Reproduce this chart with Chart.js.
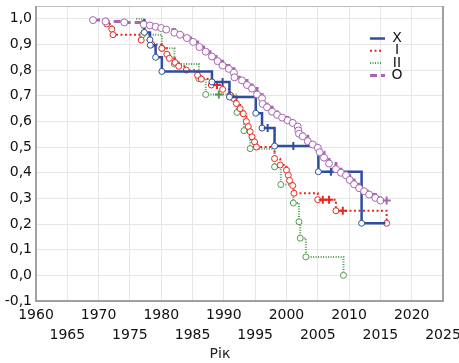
<!DOCTYPE html>
<html>
  <head>
    <style>
      html, body {
        margin: 0;
        padding: 0;
        background: #fff;
      }
    </style>
    <script src="https://cdn.jsdelivr.net/npm/chart.js"></script>
  </head>
  <body>
    <canvas id="kmChart" width="459" height="363"></canvas>
    <script>
      // values ('o' = event circle, '+' = censored, '' = no mark)
      var seriesNames = ['X', 'I', 'II', 'O'];

      var xYears = [1977.3, 1977.3, 1978.2, 1978.25, 1979.1, 1980.1, 1988.1, 1989.8, 1990.9, 1995.1, 1996.1, 1997.0, 1998.1, 2001.1, 2005.1, 2007.1, 2012.0, 2015.8];
      var xSurv  = [1.0, 0.947, 0.918, 0.897, 0.85, 0.795, 0.754, 0.754, 0.695, 0.632, 0.574, 0.574, 0.504, 0.504, 0.404, 0.404, 0.203, 0.203];
      var xMarks = ['', 'o', 'o', 'o', 'o', 'o', 'o', '+', 'o', 'o', 'o', '+', 'o', '+', 'o', '+', 'o', ''];

      var iYears = [1971.0, 1971.3, 1972.1, 1972.3, 1976.8, 1978.5, 1980.1, 1980.9, 1981.3, 1982.2, 1982.8, 1984.0, 1985.8, 1986.4, 1988.0, 1988.9, 1989.8, 1991.0, 1991.5, 1992.0, 1992.6, 1993.1, 1993.6, 1993.9, 1994.2, 1994.5, 1994.9, 1995.2, 1998.1, 1999.0, 2000.0, 2000.3, 2000.5, 2001.0, 2001.2, 2005.0, 2005.8, 2006.8, 2007.9, 2009.0, 2016.0];
      var iSurv  = [1.0, 0.98, 0.96, 0.938, 0.917, 0.90, 0.885, 0.862, 0.846, 0.83, 0.815, 0.80, 0.78, 0.765, 0.742, 0.742, 0.725, 0.703, 0.69, 0.67, 0.65, 0.63, 0.60, 0.58, 0.56, 0.54, 0.52, 0.50, 0.455, 0.43, 0.41, 0.39, 0.37, 0.35, 0.32, 0.295, 0.295, 0.295, 0.252, 0.252, 0.203];
      var iMarks = ['', 'o', 'o', 'o', 'o', 'o', 'o', 'o', 'o', 'o', 'o', 'o', 'o', 'o', 'o', '+', 'o', 'o', 'o', 'o', 'o', 'o', 'o', 'o', 'o', 'o', 'o', 'o', 'o', 'o', 'o', 'o', 'o', 'o', 'o', 'o', '+', '+', 'o', '+', 'o'];

      var iiYears = [1976.0, 1977.0, 1980.1, 1982.1, 1986.0, 1987.1, 1989.2, 1992.1, 1993.2, 1994.2, 1998.1, 1999.1, 2001.1, 2002.0, 2002.2, 2003.1, 2009.1];
      var iiSurv  = [1.0, 0.938, 0.885, 0.824, 0.767, 0.705, 0.705, 0.635, 0.564, 0.494, 0.423, 0.354, 0.282, 0.209, 0.145, 0.072, 0.0];
      var iiMarks = ['', 'o', 'o', 'o', 'o', 'o', '+', 'o', 'o', 'o', 'o', 'o', 'o', 'o', 'o', 'o', 'o'];

      var oYears = [1969.1, 1971.1, 1974.1, 1977.2, 1978.2, 1979.1, 1980.0, 1980.8, 1982.1, 1983.0, 1984.1, 1985.1, 1986.1, 1987.1, 1988.1, 1989.0, 1989.8, 1990.8, 1991.6, 1991.7, 1992.9, 1993.7, 1994.5, 1995.3, 1996.1, 1996.2, 1996.9, 1997.7, 1998.5, 1999.3, 2000.2, 2001.0, 2001.8, 2001.9, 2002.0, 2002.6, 2003.4, 2004.2, 2005.0, 2005.3, 2006.0, 2006.8, 2007.9, 2008.7, 2009.5, 2010.1, 2010.8, 2011.6, 2012.4, 2013.2, 2014.2, 2015.0, 2016.0];
      var oSurv  = [0.995, 0.99, 0.986, 0.978, 0.974, 0.969, 0.964, 0.958, 0.946, 0.938, 0.925, 0.91, 0.89, 0.872, 0.853, 0.835, 0.818, 0.805, 0.79, 0.772, 0.76, 0.742, 0.728, 0.705, 0.69, 0.668, 0.655, 0.638, 0.626, 0.615, 0.604, 0.594, 0.58, 0.565, 0.552, 0.542, 0.523, 0.51, 0.497, 0.48, 0.459, 0.436, 0.414, 0.40, 0.39, 0.372, 0.355, 0.34, 0.328, 0.315, 0.302, 0.292, 0.292];
      var oMarks = ['o', 'o', 'o', 'o', 'o', 'o', 'o', 'o', 'o', 'o', 'o', 'o', 'o', 'o', 'o', 'o', 'o', 'o', 'o', 'o', 'o', 'o', 'o', 'o', 'o', 'o', 'o', 'o', 'o', 'o', 'o', 'o', 'o', 'o', 'o', 'o', 'o', 'o', 'o', 'o', 'o', 'o', 'o', 'o', 'o', 'o', 'o', 'o', 'o', 'o', 'o', 'o', '+'];

      var yTicks = [-0.1, 0.0, 0.1, 0.2, 0.3, 0.4, 0.5, 0.6, 0.7, 0.8, 0.9, 1.0];
      var axisTitle = 'Рік';

      var fontFam = '"DejaVu Sans", Verdana, sans-serif';

      function makeSeries(label, years, surv, marks, color, dash, width, radius, order) {
        return {
          label: label,
          order: order,
          data: years.map(function(y, i) { return { x: y, y: surv[i] }; }),
          borderColor: color,
          borderWidth: width,
          borderDash: dash,
          stepped: true,
          fill: false,
          pointStyle: marks.map(function(m) { return m === '+' ? 'cross' : 'circle'; }),
          pointRadius: marks.map(function(m) { return m === '' ? 0 : (m === '+' ? 4 : radius); }),
          pointBorderWidth: marks.map(function(m) { return m === '+' ? 2 : 1; }),
          pointBorderColor: color,
          pointBackgroundColor: '#fff'
        };
      }

      var legendPlugin = {
        id: 'cornerLegend',
        afterDraw: function(chart) {
          var ctx = chart.ctx;
          var area = chart.chartArea;
          ctx.save();
          // frame around the plot
          ctx.strokeStyle = '#bdbdbd';
          ctx.lineWidth = 1;
          ctx.beginPath();
          ctx.moveTo(area.left, area.top + 0.5);
          ctx.lineTo(area.right, area.top + 0.5);
          ctx.stroke();
          ctx.strokeStyle = '#a0a0a0';
          ctx.lineWidth = 2;
          ctx.beginPath();
          ctx.moveTo(area.left, area.top);
          ctx.lineTo(area.left, area.bottom);
          ctx.lineTo(area.right, area.bottom);
          ctx.lineTo(area.right, area.top);
          ctx.stroke();

          chart.data.datasets.forEach(function(ds, i) {
            var y = 38.5 + i * 12.3;
            var len = ds.borderDash.length && ds.borderDash[0] < 3 ? 11 : 15;
            ctx.strokeStyle = ds.borderColor;
            ctx.lineWidth = ds.borderWidth;
            ctx.setLineDash(ds.borderDash);
            ctx.beginPath();
            ctx.moveTo(370, y);
            ctx.lineTo(370 + len, y);
            ctx.stroke();
            ctx.setLineDash([]);
            ctx.fillStyle = '#111';
            ctx.font = '14px ' + fontFam;
            ctx.textAlign = 'center';
            ctx.textBaseline = 'middle';
            ctx.fillText(ds.label, 397, y);
          });

          ctx.fillStyle = '#222';
          ctx.font = '14px ' + fontFam;
          ctx.textAlign = 'center';
          ctx.textBaseline = 'middle';
          ctx.fillText(axisTitle, 220, 354);
          ctx.restore();
        }
      };

      var datasets = [
        makeSeries(seriesNames[0], xYears, xSurv, xMarks, '#2d4f9f', [], 2.5, 3, 1),
        makeSeries(seriesNames[1], iYears, iSurv, iMarks, '#e8281f', [2, 2.5], 2, 3, 2),
        makeSeries(seriesNames[2], iiYears, iiSurv, iiMarks, '#4f9a4f', [1, 1.5], 2, 3, 3),
        makeSeries(seriesNames[3], oYears, oSurv, oMarks, '#a865b3', [7, 4], 3, 3.5, 0)
      ];

      new Chart(document.getElementById('kmChart').getContext('2d'), {
        type: 'line',
        data: { datasets: datasets },
        options: {
          responsive: false,
          animation: false,
          devicePixelRatio: 1,
          layout: { padding: { top: 4, right: 16, bottom: 0, left: 0 } },
          plugins: {
            legend: { display: false },
            tooltip: { enabled: false }
          },
          scales: {
            x: {
              type: 'linear',
              min: 1960,
              max: 2025,
              border: { display: false },
              grid: { color: '#e6e6e6', drawTicks: false },
              ticks: {
                stepSize: 5,
                autoSkip: false,
                minRotation: 0,
                maxRotation: 0,
                padding: 4,
                color: '#111',
                font: { family: fontFam, size: 14, lineHeight: 1.45 },
                callback: function(v) {
                  return v % 10 === 0 ? [String(v), ''] : ['', String(v)];
                }
              },
              afterFit: function(scale) {
                scale.height = 62;
                scale.paddingLeft = 0;
                scale.paddingRight = 0;
              }
            },
            y: {
              min: -0.1,
              max: 1.05,
              border: { display: false },
              grid: { color: '#e6e6e6', drawTicks: false },
              afterBuildTicks: function(scale) {
                scale.ticks = yTicks.map(function(v) { return { value: v }; });
              },
              ticks: {
                padding: 4,
                color: '#111',
                font: { family: fontFam, size: 14 },
                callback: function(v) {
                  return v.toFixed(1).replace('.', ',');
                }
              },
              afterFit: function(scale) {
                scale.width = 36;
                scale.paddingTop = 0;
                scale.paddingBottom = 0;
              }
            }
          }
        },
        plugins: [legendPlugin]
      });
    </script>
  </body>
</html>
